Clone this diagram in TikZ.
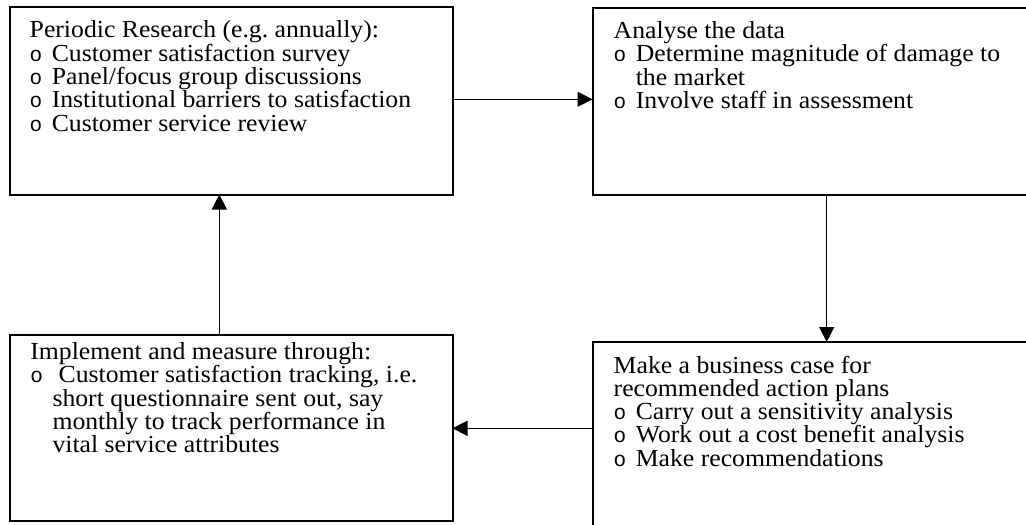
\documentclass[tikz,border=0pt]{standalone}
\usepackage{fontspec}
\setmainfont{Liberation Serif}[FakeStretch=1.05]
\newfontfamily\bulfont{Liberation Mono}
\usetikzlibrary{arrows.meta}
\frenchspacing
\newlength\hangw \setlength\hangw{11.05pt}
\newcommand\bulglyph{{\bulfont\fontsize{10.5pt}{11pt}\selectfont o}}
\newcommand\Ln[1]{\hbox{#1}}
\newcommand\Bl[1]{\hbox{\hbox to \hangw{\bulglyph\hss}#1}}
\newcommand\Bw[1]{\hbox{\hbox to 14.15pt{\bulglyph\hss}#1}}
\newcommand\Hg[1]{\hbox{\hskip\hangw #1}}
\newcommand\boxfont{\fontsize{12.25pt}{11.65pt}\selectfont\lineskiplimit=-20pt\relax\frenchspacing}
\begin{document}
\begin{tikzpicture}[x=0.5pt,y=-0.5pt]
\tikzset{
  box/.style={draw, line width=1pt, rectangle, inner sep=0pt, outer sep=0pt, anchor=north west},
  txt/.style={anchor=base west, inner sep=0pt, font=\boxfont},
  conn/.style={line width=0.7pt, -{Triangle[length=7.5pt,width=7.5pt]}}
}
\useasboundingbox (0,0) rectangle (1026,524);
% boxes
\node[box, minimum width=221.5pt, minimum height=93.5pt] (tl) at (9.5,7.5) {};
\node[box, minimum width=223.75pt, minimum height=93.25pt] (tr) at (592.5,8) {};
\node[box, minimum width=221.5pt, minimum height=93pt] (bl) at (9.5,335) {};
\node[box, minimum width=223.75pt, minimum height=99pt] (br) at (592.5,342) {};
% texts
\node[txt] (tltext) at (29.3,38) {\vtop{%
  \Ln{Periodic Research (e.g. annually):}
  \Bl{Customer satisfaction survey}
  \Bl{Panel/focus group discussions}
  \Bl{Institutional barriers to satisfaction}
  \Bl{Customer service review}}};
\node[txt] (trtext) at (613.3,38.5) {\vtop{%
  \Ln{Analyse the data}
  \Bl{Determine magnitude of damage to}
  \Hg{the market}
  \Bl{Involve staff in assessment}}};
\node[txt] (bltext) at (30,359.5) {\vtop{%
  \Ln{Implement and measure through:}
  \Bw{Customer satisfaction tracking, i.e.}
  \Hg{short questionnaire sent out, say}
  \Hg{monthly to track performance in}
  \Hg{vital service attributes}}};
\node[txt] (brtext) at (613.3,373) {\vtop{%
  \Ln{Make a business case for}
  \Ln{recommended action plans}
  \Bl{Carry out a sensitivity analysis}
  \Bl{Work out a cost benefit analysis}
  \Bl{Make recommendations}}};
% connectors
\path (tl.north east) ++(0,91.8) coordinate (a1);
\draw[conn] (a1) -- (a1 -| tr.west);
\path (tr.south west) ++(234.2,0) coordinate (a2);
\draw[conn] (a2) -- (a2 |- br.north);
\path (br.north west) ++(0,86.3) coordinate (a3);
\draw[conn] (a3) -- (a3 -| bl.east);
\path (bl.north west) ++(209.8,0) coordinate (a4);
\draw[conn] (a4) -- (a4 |- tl.south);
\end{tikzpicture}
\end{document}
